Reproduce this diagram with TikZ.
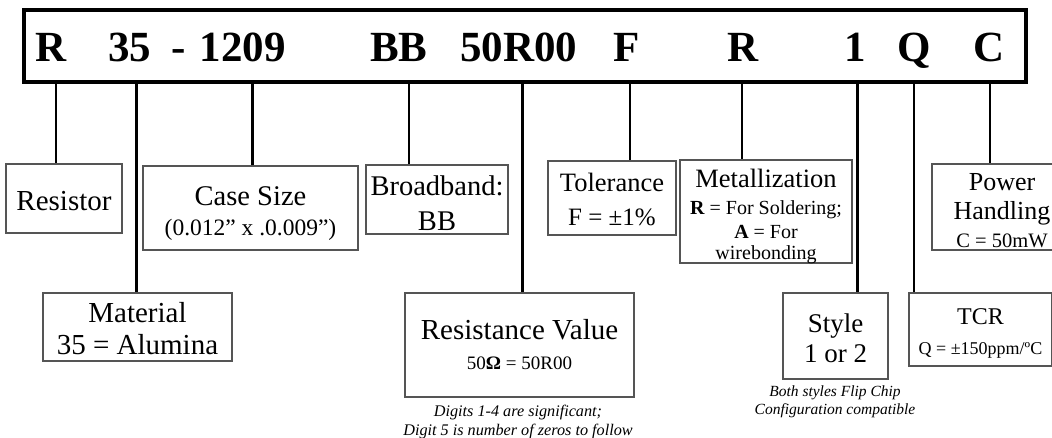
\documentclass[tikz,border=0pt]{standalone}
\usepackage{fontspec}
\setmainfont{Liberation Serif}
\newcommand\fsz[2]{\fontsize{#1}{#2}\selectfont}
\definecolor{boxgray}{RGB}{85,85,85}
\begin{document}
\begin{tikzpicture}[x=1pt,y=-1pt,
  box/.style={draw=boxgray, line width=1.1pt, inner sep=0pt},
  txt/.style={inner sep=0pt, align=center, text=black},
  conn/.style={line width=2.6pt, black},
  code/.style={font=\fsz{43}{43}\bfseries, anchor=base west, inner sep=0pt},
  note/.style={align=center, inner sep=0pt}]
\clip (0,0) rectangle (1052,438);
\fill[white] (0,0) rectangle (1052,438);
% top code box
\node[draw, line width=3.5pt, minimum width=1002, minimum height=72, inner sep=0pt] (top) at (525,46) {};
\node[code] (cR)  at (35.5,62) {R};
\node[code] (c35) at (108,62) {35};
\node[code] (cdash) at (171,62) {-};
\node[code] (c1209) at (199.5,62) {1209};
\node[code] (cBB) at (370,62) {BB};
\node[code] (c50) at (460,62) {50R00};
\node[code] (cF)  at (613,62) {F};
\node[code] (cR2) at (727,62) {R};
\node[code] (c1)  at (844,62) {1};
\node[code] (cQ)  at (897,62) {Q};
\node[code] (cC)  at (973,62) {C};
% boxes
\node[box, minimum width=116, minimum height=69] (resistor) at (64,198.5) {};
\node[box, minimum width=215, minimum height=84] (case) at (250.5,208) {};
\node[box, minimum width=142, minimum height=69] (broad) at (437,199.5) {};
\node[box, minimum width=128, minimum height=74] (tol) at (612,198) {};
\node[box, minimum width=172, minimum height=103] (metal) at (766,211.5) {};
\node[box, minimum width=140, minimum height=86] (power) at (1002,207) {};
\node[box, minimum width=189, minimum height=68] (material) at (137.5,327) {};
\node[box, minimum width=229, minimum height=104] (resist) at (519.5,345) {};
\node[box, minimum width=105, minimum height=86] (style) at (835.5,336) {};
\node[box, minimum width=143, minimum height=73] (tcr) at (980.5,329.5) {};
% box texts
\node[txt, font=\fsz{29}{34}] (resistor-t) at ([yshift=-3pt]resistor.center) {Resistor};
\node[txt, font=\fsz{28.5}{30}] (case-t) at ([yshift=-6pt]case.center)
  {Case Size\\{\fsz{23.5}{30}(0.012” x .0.009”)}};
\node[txt, font=\fsz{28.5}{35}] (broad-t) at ([yshift=-4pt]broad.center) {Broadband:\\BB};
\node[txt, font=\fsz{26.5}{34}] (tol-t) at ([yshift=-1.5pt]tol.center) {Tolerance\\{\fsz{25}{34}F = ±1\%}};
\node[txt, font=\fsz{20}{24}] (metal-t) at ([yshift=-5pt]metal.center)
  {{\fsz{26.5}{28}Metallization}\\[3pt]\textbf{R} = For Soldering;\\\textbf{A} = For\\[-3pt]wirebonding};
\node[txt, font=\fsz{26}{28.5}] (power-t) at ([yshift=-4pt]power.center)
  {Power\\Handling\\{\fsz{20.5}{28.5}C = 50mW}};
\node[txt, font=\fsz{29}{32}] (material-t) at ([yshift=-2pt]material.center) {Material\\35 = Alumina};
\node[txt, font=\fsz{29}{30}] (resist-t) at (resist.center)
  {Resistance Value\\{\fsz{19}{30}50\textbf{Ω} = 50R00}};
\node[txt, font=\fsz{27}{30}] (style-t) at ([yshift=-2pt]style.center) {Style\\1 or 2};
\node[txt, font=\fsz{24}{30}] (tcr-t) at ([yshift=-4pt]tcr.center)
  {TCR\\{\fsz{18}{30}Q = ±150ppm/ºC}};
% notes
\node[note, font=\fsz{16.2}{19}\itshape] (note1) at (518,422)
  {Digits 1-4 are significant;\\Digit 5 is number of zeros to follow};
\node[note, font=\fsz{15.5}{18}\itshape] (note2) at (835,402)
  {Both styles Flip Chip\\Configuration compatible};
% connectors
\foreach \x/\n in {56/resistor, 136.5/material, 252.5/case, 409/broad, 522.5/resist,
                   630/tol, 742/metal, 857.5/style, 914/tcr, 990/power}{
  \coordinate (p\n) at (\x,0);
  \draw[conn] (top.south -| p\n) -- (\n.north -| p\n);
}
\end{tikzpicture}
\end{document}
